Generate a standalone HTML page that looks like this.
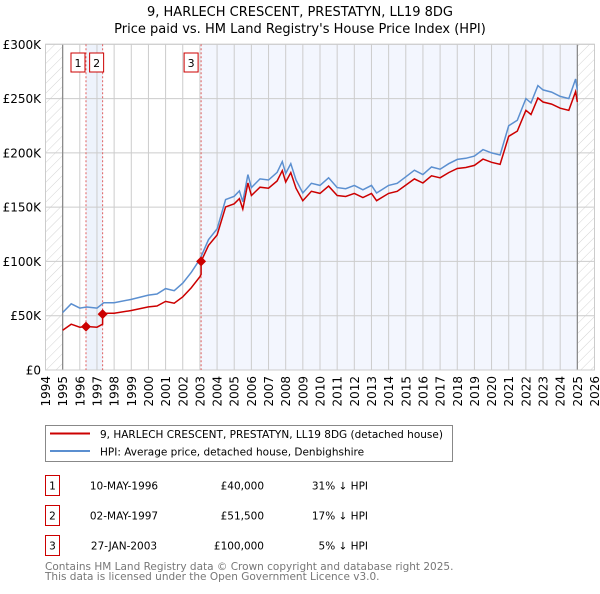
<!DOCTYPE html>
<html><head><meta charset="utf-8"><style>
body{margin:0;background:#fff;font-family:"DejaVu Sans","Liberation Sans",sans-serif;}
svg text{font-family:"DejaVu Sans","Liberation Sans",sans-serif;}
</style></head><body>
<svg id="chart" width="600" height="590" xmlns="http://www.w3.org/2000/svg">
<defs><pattern id="hatch" width="7" height="7" patternUnits="userSpaceOnUse" patternTransform="rotate(45)"><line x1="0" y1="0" x2="0" y2="7" stroke="#d4d4d4" stroke-width="1"/></pattern></defs>
<text x="300" y="16" text-anchor="middle" font-size="13">9, HARLECH CRESCENT, PRESTATYN, LL19 8DG</text>
<text x="300" y="33" text-anchor="middle" font-size="13">Price paid vs. HM Land Registry's House Price Index (HPI)</text>
<g id="plot"></g>
<g>
<rect x="45.5" y="425.5" width="407" height="36" fill="#fff" stroke="#888"/>
<line x1="50" y1="433.5" x2="90" y2="433.5" stroke="#cc0000" stroke-width="2"/>
<text x="100" y="438" font-size="10.5">9, HARLECH CRESCENT, PRESTATYN, LL19 8DG (detached house)</text>
<line x1="50" y1="451" x2="90" y2="451" stroke="#5b8fd0" stroke-width="2"/>
<text x="100" y="455.5" font-size="10.5">HPI: Average price, detached house, Denbighshire</text>
</g>
<g id="table" font-size="10.5"></g>
<text x="45" y="570" font-size="10.5" fill="#777">Contains HM Land Registry data © Crown copyright and database right 2025.</text>
<text x="45" y="580" font-size="10.5" fill="#777">This data is licensed under the Open Government Licence v3.0.</text>
</svg>
<script>
const hpiYears=[1995,1995.5,1996,1996.4,1997,1997.4,1998,1999,2000,2000.5,2001,2001.5,2002,2002.5,2003,2003.5,2004,2004.5,2005,2005.3,2005.5,2005.8,2006,2006.5,2007,2007.5,2007.8,2008,2008.3,2008.6,2009,2009.5,2010,2010.5,2011,2011.5,2012,2012.5,2013,2013.3,2014,2014.5,2015,2015.5,2016,2016.5,2017,2017.5,2018,2018.5,2019,2019.5,2020,2020.5,2021,2021.5,2022,2022.3,2022.7,2023,2023.5,2024,2024.5,2024.9,2025];
const hpiValues=[53,61,57,58,57,62,62,65,69,70,75,73,80,90,102,120,130,157,160,165,155,180,168,176,175,182,192,181,190,175,163,172,170,177,168,167,170,166,170,163,170,172,178,184,180,187,185,190,194,195,197,203,200,198,225,230,250,246,262,258,256,252,250,268,258];
const saleYears=[1996.36,1997.33,2003.07];
const salePrices=[40,51.5,100];
const saleLabels=["1","2","3"];
const saleDates=["10-MAY-1996","02-MAY-1997","27-JAN-2003"];
const salePriceText=["£40,000","£51,500","£100,000"];
const saleDiffText=["31% ↓ HPI","17% ↓ HPI","5% ↓ HPI"];
const yTicks=[0,50,100,150,200,250,300];
const yTickLabels=["£0","£50K","£100K","£150K","£200K","£250K","£300K"];
const xTicks=[];for(let y=1994;y<=2026;y++)xTicks.push(y);

const X0=45.5,X1=594.5,Y0=370,Y1=44.3;
const xs=v=>X0+(v-1994)/32*(X1-X0);
const ys=v=>Y0-v/300*(Y0-Y1);
const NS="http://www.w3.org/2000/svg";
const plot=document.getElementById('plot');
function mk(tag,attrs,parent){const e=document.createElementNS(NS,tag);for(const k in attrs)e.setAttribute(k,attrs[k]);(parent||plot).appendChild(e);return e;}
function hpiAt(t){for(let i=0;i<hpiYears.length-1;i++){if(t<=hpiYears[i+1]){const f=(t-hpiYears[i])/(hpiYears[i+1]-hpiYears[i]);return hpiValues[i]+f*(hpiValues[i+1]-hpiValues[i]);}}return hpiValues[hpiValues.length-1];}

let bg=mk('rect',{x:X0,y:Y1,width:X1-X0,height:Y0-Y1,fill:'#fff'});


let h1=mk('rect',{x:X0,y:Y1,width:xs(1995)-X0,height:Y0-Y1,fill:'url(#hatch)'});


let h2=mk('rect',{x:xs(2025),y:Y1,width:X1-xs(2025),height:Y0-Y1,fill:'url(#hatch)'});


let s1=mk('rect',{x:xs(saleYears[0]),y:Y1,width:xs(saleYears[1])-xs(saleYears[0]),height:Y0-Y1,fill:'#eef3fc'});


let s2=mk('rect',{x:xs(saleYears[2]),y:Y1,width:xs(2025)-xs(saleYears[2]),height:Y0-Y1,fill:'#f3f6fe'});



xTicks.forEach(t=>{
 let g=mk('line',{x1:xs(t),x2:xs(t),y1:Y1,y2:Y0,stroke:'#ccc','stroke-width':1});
 
 
 let tx=mk('text',{x:0,y:0,'font-size':12,'text-anchor':'end',transform:`translate(${xs(t)+4.5},376) rotate(-90)`});
 tx.textContent=t;
 
 
});
yTicks.forEach((t,i)=>{
 let g=mk('line',{x1:X0,x2:X1,y1:ys(t),y2:ys(t),stroke:'#ccc','stroke-width':1});
 
 
 let tx=mk('text',{x:41,y:ys(t)+4.5,'font-size':12,'text-anchor':'end'});
 tx.textContent=yTickLabels[i];
 
 
});
let vl1=mk('line',{x1:xs(1995),x2:xs(1995),y1:Y1,y2:Y0,stroke:'#888','stroke-width':1.2});


let vl2=mk('line',{x1:xs(2025),x2:xs(2025),y1:Y1,y2:Y0,stroke:'#888','stroke-width':1.2});


let fr=mk('rect',{x:X0,y:Y1,width:X1-X0,height:Y0-Y1,fill:'none',stroke:'#ccc'});



saleYears.forEach((s,i)=>{
 let l=mk('line',{x1:xs(s),x2:xs(s),y1:Y1,y2:Y0,stroke:'#e06060','stroke-width':1,'stroke-dasharray':'2,2'});
 
 
 const bx=i===0?xs(s)-8:(i===1?xs(s)-6:xs(s)-10);
 let r=mk('rect',{x:bx-7,y:53,width:14,height:19,fill:'#fff',stroke:'#cc0000'});
 
 
 let t=mk('text',{x:bx,y:67,'font-size':11,'text-anchor':'middle'});
 t.textContent=saleLabels[i];
 
 
});

let hp='';hpiYears.forEach((y,i)=>{hp+=(i?'L':'M')+xs(y).toFixed(1)+','+ys(hpiValues[i]).toFixed(1);});
let hl=mk('path',{d:hp,fill:'none',stroke:'#5b8fd0','stroke-width':1.5});


function ratioAt(t){let k=0;for(let i=0;i<saleYears.length;i++)if(t>=saleYears[i])k=i;return salePrices[k]/hpiAt(saleYears[k]);}
let pts=[];
hpiYears.forEach((y,i)=>{pts.push([y,hpiValues[i]*ratioAt(y)]);});
saleYears.forEach((s,i)=>{pts.push([s-0.001,hpiAt(s)*(i?salePrices[i-1]/hpiAt(saleYears[i-1]):salePrices[0]/hpiAt(saleYears[0]))]);pts.push([s,salePrices[i]]);});
pts.sort((a,b)=>a[0]-b[0]);
let pp='';pts.forEach((p,i)=>{pp+=(i?'L':'M')+xs(p[0]).toFixed(1)+','+ys(p[1]).toFixed(1);});
let pl=mk('path',{d:pp,fill:'none',stroke:'#cc0000','stroke-width':1.5});


saleYears.forEach((s,i)=>{
 const cx=xs(s),cy=ys(salePrices[i]);
 let d=mk('path',{d:`M${cx},${cy-5}L${cx+5},${cy}L${cx},${cy+5}L${cx-5},${cy}Z`,fill:'#cc0000'});
 
 
});

const tb=document.getElementById('table');
saleYears.forEach((s,i)=>{
 const y0=475.5+i*30;
 let r=mk('rect',{x:45.5,y:y0,width:14,height:20,fill:'#fff',stroke:'#cc0000'},tb);
 
 
 let t=mk('text',{x:52.5,y:y0+14,'text-anchor':'middle'},tb);t.textContent=saleLabels[i];
 
 
 let d=mk('text',{x:124,y:y0+14,'text-anchor':'middle'},tb);d.textContent=saleDates[i];
 
 
 let p=mk('text',{x:264,y:y0+14,'text-anchor':'end'},tb);p.textContent=salePriceText[i];
 
 
 let h=mk('text',{x:368,y:y0+14,'text-anchor':'end'},tb);h.textContent=saleDiffText[i];
 
 
});
</script>
</body></html>
